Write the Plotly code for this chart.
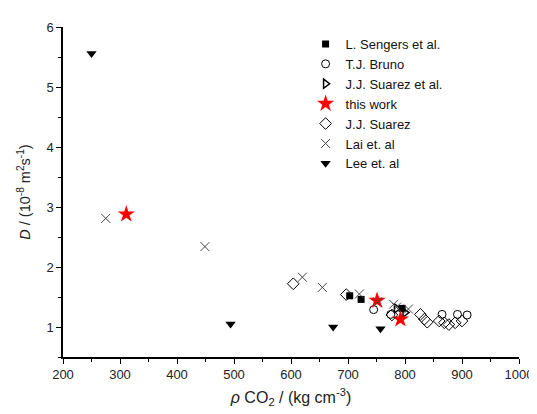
import plotly.graph_objects as go

# Data (density kg/m3, D in 1e-8 m2/s)
sengers_x = [703, 723, 795]
sengers_y = [1.52, 1.46, 1.31]

bruno_x = [745, 775, 865, 892, 909]
bruno_y = [1.29, 1.21, 1.21, 1.21, 1.20]

suarez_etal_x = [785, 800]
suarez_etal_y = [1.31, 1.24]

thiswork_x = [311, 751, 792]
thiswork_y = [2.88, 1.44, 1.13]

suarez_x = [604, 697, 777, 827, 834, 839, 860, 869, 877, 888, 900]
suarez_y = [1.72, 1.54, 1.20, 1.21, 1.13, 1.08, 1.10, 1.07, 1.04, 1.07, 1.10]

lai_x = [275, 449, 620, 655, 720, 752, 780, 785, 806]
lai_y = [2.81, 2.34, 1.83, 1.66, 1.55, 1.42, 1.38, 1.33, 1.30]

lee_x = [250, 494, 674, 757]
lee_y = [5.56, 1.05, 1.00, 0.97]

fig = go.Figure()
fig.add_trace(go.Scatter(x=sengers_x, y=sengers_y, mode="markers", name="L. Sengers et al.",
                         marker=dict(symbol="square", size=7, color="black")))
fig.add_trace(go.Scatter(x=bruno_x, y=bruno_y, mode="markers", name="T.J. Bruno",
                         marker=dict(symbol="circle-open", size=8, color="black", line=dict(width=1))))
fig.add_trace(go.Scatter(x=suarez_etal_x, y=suarez_etal_y, mode="markers", name="J.J. Suarez et al.",
                         marker=dict(symbol="triangle-right-open", size=8, color="black", line=dict(width=1.5))))
fig.add_trace(go.Scatter(x=thiswork_x, y=thiswork_y, mode="markers", name="this work",
                         marker=dict(symbol="star", size=13, color="red", line=dict(width=0))))
fig.add_trace(go.Scatter(x=suarez_x, y=suarez_y, mode="markers", name="J.J. Suarez",
                         marker=dict(symbol="diamond-open", size=9, color="black", line=dict(width=1))))
fig.add_trace(go.Scatter(x=lai_x, y=lai_y, mode="markers", name="Lai et. al",
                         marker=dict(symbol="x-thin-open", size=9, color="#444", line=dict(width=1, color="#444"))))
fig.add_trace(go.Scatter(x=lee_x, y=lee_y, mode="markers", name="Lee et. al",
                         marker=dict(symbol="triangle-down", size=9, color="black")))

axis_common = dict(showline=True, linecolor="black", linewidth=1.5, ticks="outside",
                   ticklen=5, tickwidth=1, tickcolor="black", showgrid=False, zeroline=False,
                   tickfont=dict(family="Liberation Sans, Arial", size=13, color="#222"))

fig.update_layout(
    width=537, height=414,
    margin=dict(l=55, r=23, t=12, b=65),
    paper_bgcolor="white", plot_bgcolor="white",
    font=dict(family="Liberation Sans, Arial", size=13, color="#222"),
    showlegend=True,
    legend=dict(x=0.532, y=0.994, xanchor="left", yanchor="top", bgcolor="rgba(0,0,0,0)",
                font=dict(size=13, color="#111"), tracegroupgap=0, itemsizing="trace"),
    xaxis=dict(range=[200, 1000], dtick=100, tick0=0,
               minor=dict(ticks="outside", dtick=50, ticklen=3, tickcolor="black"),
               title=dict(text="<i>ρ</i> CO<sub>2</sub> / (kg cm<sup>-3</sup>)", standoff=10,
                          font=dict(size=16, color="#222")),
               **axis_common),
    yaxis=dict(range=[0.5, 6], dtick=1, tick0=0,
               minor=dict(ticks="outside", dtick=0.5, ticklen=3, tickcolor="black"),
               title=dict(text="<i>D</i> / (10<sup>-8</sup> m<sup>2</sup>s<sup>-1</sup>)", standoff=12,
                          font=dict(size=14.5, color="#222")),
               **axis_common),
)

fig.write_html("out.html", config={"displayModeBar": False})
